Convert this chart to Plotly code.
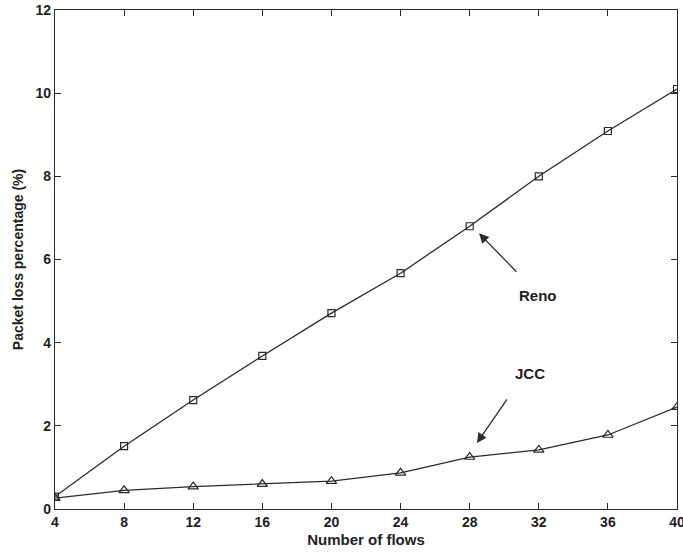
import plotly.graph_objects as go

# Packet loss vs. number of flows for two congestion control schemes
flows = [4, 8, 12, 16, 20, 24, 28, 32, 36, 40]
reno_loss = [0.30, 1.51, 2.62, 3.68, 4.71, 5.67, 6.80, 8.00, 9.09, 10.10]
jcc_loss = [0.26, 0.45, 0.54, 0.60, 0.67, 0.87, 1.25, 1.42, 1.78, 2.45]

x_ticks = [4, 8, 12, 16, 20, 24, 28, 32, 36, 40]
y_ticks = [0, 2, 4, 6, 8, 10, 12]

line_col = "#2a2a2a"
font_fam = "Liberation Sans, Arial, sans-serif"

fig = go.Figure()
fig.add_trace(go.Scatter(
    x=flows, y=reno_loss, mode="lines+markers", name="Reno",
    line=dict(color=line_col, width=1.3),
    marker=dict(symbol="square-open", size=7, color=line_col, line=dict(width=1.2)),
))
fig.add_trace(go.Scatter(
    x=flows, y=jcc_loss, mode="lines+markers", name="JCC",
    line=dict(color=line_col, width=1.3),
    marker=dict(symbol="triangle-up-open", size=9, color=line_col, line=dict(width=1.2)),
))

# Arrow callouts with their labels
callouts = [
    dict(label="Reno", head=(28.54, 6.63), tail=(30.79, 5.67), text_at=(31.95, 5.14)),
    dict(label="JCC", head=(28.42, 1.59), tail=(30.22, 2.67), text_at=(31.49, 3.27)),
]
for c in callouts:
    fig.add_annotation(
        x=c["head"][0], y=c["head"][1], ax=c["tail"][0], ay=c["tail"][1],
        xref="x", yref="y", axref="x", ayref="y", text="",
        showarrow=True, arrowhead=2, arrowsize=1.5, arrowwidth=1.3, arrowcolor=line_col,
    )
    fig.add_annotation(
        x=c["text_at"][0], y=c["text_at"][1], xref="x", yref="y",
        text="<b>%s</b>" % c["label"], showarrow=False,
        font=dict(family=font_fam, size=15, color="#222"),
    )

axis_common = dict(
    showgrid=False, zeroline=False, showline=True, mirror="ticks",
    linecolor=line_col, linewidth=1.3, ticks="inside", ticklen=6,
    tickcolor=line_col, tickwidth=1.2,
    tickfont=dict(family=font_fam, size=14, color="#222"),
    ticklabeloverflow="allow",
)

fig.update_layout(
    width=683, height=552,
    margin=dict(l=55, r=6, t=10, b=43),
    paper_bgcolor="white", plot_bgcolor="white",
    showlegend=False,
    font=dict(family=font_fam, color="#222"),
    xaxis=dict(
        range=[4, 40], tickvals=x_ticks, ticktext=[f"<b>{v}</b>" for v in x_ticks],
        title=dict(text="<b>Number of flows</b>", font=dict(size=15, family=font_fam), standoff=5),
        automargin=False, **axis_common,
    ),
    yaxis=dict(
        range=[0, 12], tickvals=y_ticks, ticktext=[f"<b>{v}</b>" for v in y_ticks],
        title=dict(text="<b>Packet loss percentage (%)</b>", font=dict(size=14, family=font_fam), standoff=8),
        automargin=False, **axis_common,
    ),
)

fig.write_html("out.html")
